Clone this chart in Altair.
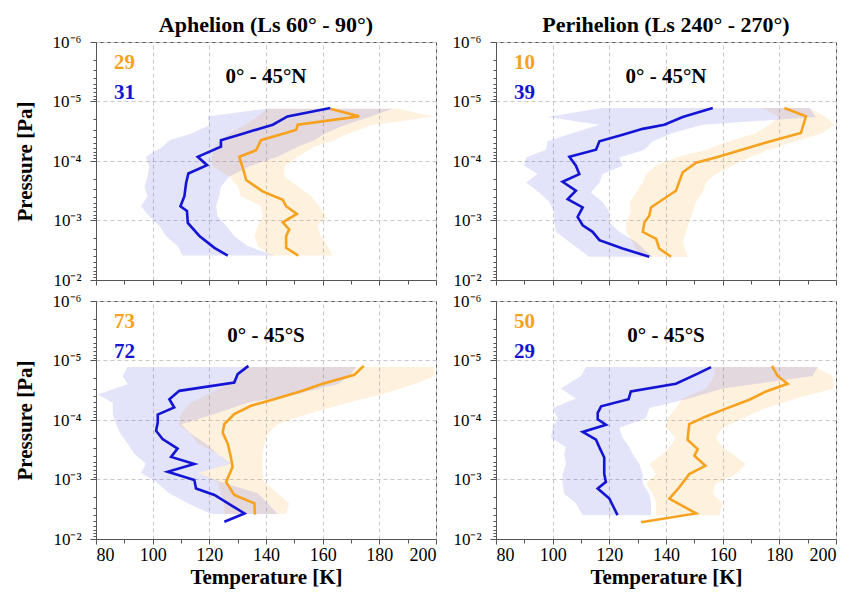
import altair as alt
import pandas as pd

FONT = "Liberation Serif"
ORANGE = "#F7A21E"
BLUE = "#1414D4"

# ---------------- Panel 1: Aphelion, 0°-45°N ----------------
aphN_blue_logp = [-4.89, -4.75, -4.61, -4.46, -4.35, -4.24, -4.07, -3.93, -3.79, -3.63, -3.41, -3.24, -3.16, -2.96, -2.74, -2.54, -2.41]
aphN_blue_t = [162.7, 147.6, 142.4, 131.8, 124.1, 124.1, 115.9, 119.2, 112.6, 111.8, 111.2, 109.8, 112.1, 112.4, 116.5, 121.8, 126.5]
aphN_orange_logp = [-4.88, -4.75, -4.61, -4.52, -4.35, -4.18, -4.07, -3.79, -3.68, -3.49, -3.35, -3.24, -3.11, -2.97, -2.85, -2.74, -2.54, -2.41]
aphN_orange_t = [162.7, 172.9, 151.2, 150.6, 138.2, 136.5, 130.6, 132.4, 133.0, 138.8, 145.9, 147.1, 150.9, 145.9, 148.2, 147.1, 147.1, 151.4]
aphN_band_logp = [-4.88, -4.75, -4.60, -4.46, -4.35, -4.24, -4.07, -3.91, -3.74, -3.57, -3.41, -3.24, -3.07, -2.91, -2.74, -2.57, -2.41]
aphN_blue_lo = [140.0, 119.4, 120.0, 113.5, 105.9, 103.5, 97.6, 98.8, 98.2, 97.1, 98.2, 95.9, 98.8, 102.4, 104.7, 108.8, 110.6]
aphN_blue_hi = [184.7, 177.1, 167.6, 160.6, 157.1, 151.2, 144.1, 134.1, 127.1, 124.1, 123.5, 122.4, 122.9, 125.9, 128.8, 133.5, 142.9]
aphN_orange_lo = [140.6, 137.1, 132.4, 127.1, 124.1, 121.8, 120.8, 121.2, 127.1, 130.0, 131.2, 138.2, 138.8, 137.1, 135.9, 137.1, 141.8]
aphN_orange_hi = [186.5, 199.4, 177.1, 168.8, 164.1, 157.1, 151.2, 146.5, 146.5, 151.2, 155.9, 158.8, 161.2, 158.2, 159.4, 161.8, 163.5]
aphN_counts = ["29", "31"]

# ---------------- Panel 2: Perihelion, 0°-45°N ----------------
perN_blue_logp = [-4.89, -4.74, -4.61, -4.54, -4.44, -4.33, -4.19, -4.07, -3.92, -3.78, -3.65, -3.50, -3.36, -3.22, -3.06, -2.92, -2.81, -2.67, -2.53, -2.39]
perN_blue_t = [156.5, 145.9, 139.4, 131.8, 124.7, 116.5, 115.3, 105.9, 108.2, 109.4, 103.5, 108.2, 105.3, 110.6, 108.8, 110.6, 114.1, 116.5, 124.7, 134.1]
perN_orange_logp = [-4.89, -4.75, -4.47, -4.31, -4.17, -4.06, -3.97, -3.81, -3.50, -3.22, -3.08, -2.97, -2.81, -2.69, -2.53, -2.39]
perN_orange_t = [181.8, 189.4, 187.6, 175.3, 165.3, 157.6, 150.6, 145.9, 143.5, 134.7, 134.1, 132.4, 131.8, 136.5, 137.6, 141.8]
perN_band_logp = [-4.89, -4.74, -4.61, -4.47, -4.33, -4.19, -4.06, -3.92, -3.78, -3.64, -3.47, -3.31, -3.14, -2.97, -2.81, -2.64, -2.39]
perN_blue_lo = [117.1, 98.2, 116.5, 107.1, 98.2, 97.6, 90.6, 90.0, 94.7, 90.6, 95.3, 98.8, 100.6, 100.6, 101.2, 105.9, 112.9]
perN_blue_hi = [190.6, 192.9, 152.9, 142.4, 135.3, 132.4, 123.5, 124.7, 117.6, 116.5, 113.5, 117.6, 120.0, 120.0, 123.5, 129.4, 135.3]
perN_orange_lo = [174.1, 180.0, 176.5, 171.8, 162.4, 154.1, 143.5, 136.5, 132.9, 131.8, 129.4, 127.1, 127.6, 125.9, 125.9, 128.2, 130.6]
perN_orange_hi = [190.6, 196.5, 199.4, 195.3, 185.9, 176.5, 169.4, 163.5, 157.6, 154.1, 152.9, 150.6, 149.4, 148.2, 147.1, 145.9, 147.6]
perN_counts = ["10", "39"]

# ---------------- Panel 3: Aphelion, 0°-45°S ----------------
aphS_blue_logp = [-4.91, -4.77, -4.63, -4.49, -4.35, -4.21, -4.09, -3.96, -3.82, -3.68, -3.52, -3.38, -3.26, -3.13, -2.99, -2.85, -2.74, -2.57, -2.43, -2.29]
aphS_blue_t = [133.8, 130.0, 128.8, 109.4, 105.9, 107.6, 101.8, 101.8, 101.2, 103.5, 108.8, 106.5, 114.7, 105.3, 114.7, 115.3, 121.8, 127.6, 132.4, 125.3]
aphS_orange_logp = [-4.91, -4.76, -4.60, -4.49, -4.35, -4.24, -4.10, -3.93, -3.79, -3.60, -3.38, -3.21, -2.96, -2.74, -2.60, -2.41]
aphS_orange_t = [174.5, 171.2, 159.4, 152.9, 142.9, 134.7, 128.8, 125.3, 124.7, 126.5, 127.6, 128.2, 125.9, 128.8, 135.9, 136.1]
aphS_band_logp = [-4.89, -4.74, -4.60, -4.43, -4.29, -4.10, -3.93, -3.77, -3.60, -3.43, -3.27, -3.11, -2.96, -2.77, -2.60, -2.42]
aphS_blue_lo = [91.2, 89.4, 91.2, 80.6, 85.9, 85.9, 87.1, 88.6, 91.2, 93.5, 97.6, 95.9, 101.2, 105.9, 112.4, 120.6]
aphS_blue_hi = [171.8, 169.4, 165.3, 150.0, 133.5, 121.8, 110.0, 113.5, 118.8, 122.9, 127.6, 115.9, 124.1, 137.1, 140.6, 144.1]
aphS_orange_lo = [133.5, 130.0, 126.5, 119.4, 113.5, 110.0, 108.8, 113.5, 115.9, 122.9, 127.1, 115.9, 122.9, 124.1, 125.3, 125.3]
aphS_orange_hi = [199.4, 199.4, 192.4, 180.6, 168.8, 154.7, 144.1, 140.6, 139.4, 138.8, 138.8, 138.8, 139.4, 144.1, 148.2, 147.1]
aphS_counts = ["73", "72"]

# ---------------- Panel 4: Perihelion, 0°-45°S ----------------
perS_blue_logp = [-4.89, -4.78, -4.61, -4.48, -4.35, -4.23, -4.12, -4.01, -3.92, -3.80, -3.67, -3.54, -3.37, -3.09, -2.96, -2.85, -2.68, -2.40]
perS_blue_t = [155.9, 151.2, 143.5, 127.6, 126.8, 117.1, 115.9, 115.9, 118.8, 110.6, 115.3, 116.5, 118.2, 118.2, 118.8, 115.9, 120.0, 122.9]
perS_orange_logp = [-4.91, -4.74, -4.61, -4.48, -4.34, -4.17, -4.06, -3.93, -3.67, -3.51, -3.40, -3.23, -3.09, -2.87, -2.68, -2.43, -2.28]
perS_orange_t = [177.4, 179.4, 182.9, 175.3, 169.4, 160.0, 154.1, 148.2, 147.6, 151.2, 150.0, 153.9, 148.2, 144.7, 141.2, 150.6, 131.2]
perS_band_logp = [-4.89, -4.74, -4.53, -4.36, -4.20, -4.03, -3.87, -3.70, -3.54, -3.43, -3.26, -3.09, -2.93, -2.76, -2.60, -2.40]
perS_blue_lo = [111.8, 110.0, 102.9, 108.2, 100.0, 101.8, 100.0, 99.4, 104.7, 104.1, 104.7, 103.5, 103.5, 104.1, 108.2, 110.6]
perS_blue_hi = [193.5, 191.8, 160.0, 148.2, 134.1, 132.9, 123.5, 124.7, 127.1, 128.2, 130.6, 131.8, 131.8, 134.1, 134.7, 134.7]
perS_orange_lo = [157.1, 157.1, 154.1, 145.9, 143.5, 140.6, 140.0, 143.5, 141.2, 138.8, 134.1, 136.5, 132.9, 135.3, 136.5, 136.5]
perS_orange_hi = [192.9, 198.8, 199.4, 185.9, 175.3, 167.1, 160.0, 157.6, 160.0, 163.5, 168.2, 164.7, 157.6, 156.5, 160.0, 158.8]
perS_counts = ["50", "29"]

x_ticks = list(range(80, 201, 10))
y_major = [1e-6, 1e-5, 1e-4, 1e-3, 1e-2]
y_minor = [k * 10.0 ** e for e in range(-6, -2) for k in range(2, 10)]

MAJ_X = "datum.value % 20 == 0"
MAJ_Y = "abs(log(datum.value)/LN10 - round(log(datum.value)/LN10)) < 0.01"
Y_LABEL = (f"{MAJ_Y} ? (datum.value < 5e-6 ? '10⁻⁶' : datum.value < 5e-5 ? '10⁻⁵' : "
           "datum.value < 5e-4 ? '10⁻⁴' : datum.value < 5e-3 ? '10⁻³' : '10⁻²') : ''")


def make_panel(blue_logp, blue_t, orange_logp, orange_t, band_logp, blo, bhi, olo, ohi,
               counts, region, top_row, left_col, title=None):
    xscale = alt.Scale(domain=[80, 200], nice=False, zero=False)
    yscale = alt.Scale(type="log", domain=[1e-6, 1e-2], reverse=True, nice=False)
    xaxis = alt.Axis(
        values=x_ticks,
        labelExpr=f"{MAJ_X} ? datum.label : ''",
        labels=not top_row,
        title=None if top_row else "Temperature [K]",
        tickSize={"condition": {"test": MAJ_X, "value": 5}, "value": 4},
        gridOpacity={"condition": {"test": MAJ_X, "value": 1}, "value": 0},
        labelPadding=2,
        titlePadding=2,
    )
    yaxis = alt.Axis(
        values=y_major + y_minor,
        labelExpr=Y_LABEL,
        title="Pressure [Pa]" if left_col else None,
        tickSize={"condition": {"test": MAJ_Y, "value": 6}, "value": 3},
        gridOpacity={"condition": {"test": MAJ_Y, "value": 1}, "value": 0},
        labelPadding=9,
        titlePadding=17,
        labelFontSize=17,
    )
    band_df = pd.DataFrame({"p": [10 ** v for v in band_logp],
                            "blo": blo, "bhi": bhi, "olo": olo, "ohi": ohi})
    b_df = pd.DataFrame({"p": [10 ** v for v in blue_logp], "t": blue_t,
                         "i": list(range(len(blue_t)))})
    o_df = pd.DataFrame({"p": [10 ** v for v in orange_logp], "t": orange_t,
                         "i": list(range(len(orange_t)))})

    def Y():
        return alt.Y("p:Q", scale=yscale, axis=yaxis)

    band_o = alt.Chart(band_df).mark_area(orient="horizontal", color=ORANGE, opacity=0.14).encode(
        x=alt.X("olo:Q", scale=xscale, axis=xaxis), x2="ohi:Q", y=Y())
    band_b = alt.Chart(band_df).mark_area(orient="horizontal", color="#4040e0", opacity=0.15).encode(
        x=alt.X("blo:Q", scale=xscale, axis=xaxis), x2="bhi:Q", y=Y())
    line_o = alt.Chart(o_df).mark_line(color=ORANGE, strokeWidth=2.6).encode(
        x=alt.X("t:Q", scale=xscale, axis=xaxis), y=Y(), order="i:Q")
    line_b = alt.Chart(b_df).mark_line(color=BLUE, strokeWidth=2.6).encode(
        x=alt.X("t:Q", scale=xscale, axis=xaxis), y=Y(), order="i:Q")

    def txt(s, color, x, y, align):
        return alt.Chart(pd.DataFrame({"s": [s]})).mark_text(
            font=FONT, fontSize=21, fontWeight="bold", color=color, align=align, baseline="alphabetic"
        ).encode(text="s:N", x=alt.value(x), y=alt.value(y))

    layers = [band_o, band_b, line_o, line_b,
              txt(counts[0], ORANGE, 18, 27, "left"),
              txt(counts[1], BLUE, 18, 57, "left"),
              txt(region, "black", 170, 41, "center")]
    ch = alt.layer(*layers).properties(width=340, height=238)
    if title:
        ch = ch.properties(title=alt.TitleParams(title, font=FONT, fontSize=22, fontWeight="bold",
                                                 anchor="middle", offset=-4, color="black"))
    return ch


p1 = make_panel(aphN_blue_logp, aphN_blue_t, aphN_orange_logp, aphN_orange_t, aphN_band_logp,
                aphN_blue_lo, aphN_blue_hi, aphN_orange_lo, aphN_orange_hi, aphN_counts,
                "0° - 45°N", True, True, "Aphelion (Ls 60° - 90°)")
p2 = make_panel(perN_blue_logp, perN_blue_t, perN_orange_logp, perN_orange_t, perN_band_logp,
                perN_blue_lo, perN_blue_hi, perN_orange_lo, perN_orange_hi, perN_counts,
                "0° - 45°N", True, False, "Perihelion (Ls 240° - 270°)")
p3 = make_panel(aphS_blue_logp, aphS_blue_t, aphS_orange_logp, aphS_orange_t, aphS_band_logp,
                aphS_blue_lo, aphS_blue_hi, aphS_orange_lo, aphS_orange_hi, aphS_counts,
                "0° - 45°S", False, True)
p4 = make_panel(perS_blue_logp, perS_blue_t, perS_orange_logp, perS_orange_t, perS_band_logp,
                perS_blue_lo, perS_blue_hi, perS_orange_lo, perS_orange_hi, perS_counts,
                "0° - 45°S", False, False)

chart = alt.concat(p1, p2, p3, p4, columns=2, spacing={"row": 21, "column": 60}, bounds="flush").configure_axis(
    labelFont=FONT, titleFont=FONT, labelFontSize=18, titleFontSize=21, titleFontWeight="bold",
    labelColor="black", titleColor="black", domainColor="#555555", tickColor="#555555",
    gridColor="#c8c8c8", gridDash=[4, 3], gridWidth=1,
).configure_view(stroke="#555555", strokeWidth=1).properties(background="white")

chart.save("out.html", embed_options={"renderer": "svg", "actions": False})
